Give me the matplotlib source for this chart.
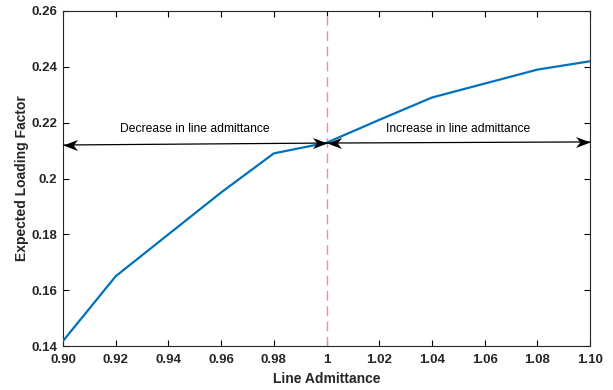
import matplotlib
matplotlib.use('Agg')
import matplotlib.pyplot as plt
from matplotlib.path import Path

# data
admittance = [0.90, 0.92, 0.94, 0.96, 0.98, 1.00, 1.02, 1.04, 1.06, 1.08, 1.10]
loading = [0.1418, 0.165, 0.180, 0.195, 0.209, 0.2128, 0.221, 0.229, 0.234, 0.239, 0.242]

xticks = [0.90, 0.92, 0.94, 0.96, 0.98, 1.00, 1.02, 1.04, 1.06, 1.08, 1.10]
xticklabels = ['0.90', '0.92', '0.94', '0.96', '0.98', '1', '1.02', '1.04', '1.06', '1.08', '1.10']
yticks = [0.14, 0.16, 0.18, 0.20, 0.22, 0.24, 0.26]
yticklabels = ['0.14', '0.16', '0.18', '0.2', '0.22', '0.24', '0.26']

# double-headed arrows: (x0, y0, x1, y1)
dec_arrow = (0.90, 0.2120, 1.00, 0.2127)
inc_arrow = (1.00, 0.2127, 1.10, 0.2131)

plt.rcParams['font.family'] = ['Liberation Sans', 'DejaVu Sans']

fig = plt.figure(figsize=(6.13, 3.9), dpi=100)
ax = fig.add_axes([0.1028, 0.1128, 0.8597, 0.859])

ax.plot(admittance, loading, color='#0072BD', lw=1.6, zorder=3)
ax.axvline(1.0, color='#ff8a8a', ls=(0, (7, 4)), lw=1.0, zorder=2)

# swept-back arrow heads (tip at the origin)
head_left = Path([(0, 0), (1, 0.38), (0.7, 0), (1, -0.38), (0, 0)],
                 [Path.MOVETO, Path.LINETO, Path.LINETO, Path.LINETO, Path.CLOSEPOLY])
head_right = Path([(0, 0), (-1, 0.38), (-0.7, 0), (-1, -0.38), (0, 0)],
                  [Path.MOVETO, Path.LINETO, Path.LINETO, Path.LINETO, Path.CLOSEPOLY])

for x0, y0, x1, y1 in [dec_arrow, inc_arrow]:
    ax.plot([x0, x1], [y0, y1], color='black', lw=0.9, zorder=4)
    ax.plot([x0], [y0], marker=head_left, ms=21, color='black', mew=0, zorder=5,
            clip_on=False)
    ax.plot([x1], [y1], marker=head_right, ms=21, color='black', mew=0, zorder=5,
            clip_on=False)

ax.text(0.95, 0.2177, 'Decrease in line admittance', ha='center', va='center', fontsize=8.7)
ax.text(1.05, 0.2177, 'Increase in line admittance', ha='center', va='center', fontsize=8.7)

ax.set_xlim(0.90, 1.10)
ax.set_ylim(0.14, 0.26)
ax.set_xticks(xticks)
ax.set_xticklabels(xticklabels, fontweight='bold', fontsize=9.5)
ax.set_yticks(yticks)
ax.set_yticklabels(yticklabels, fontweight='bold', fontsize=9.5)
ax.tick_params(direction='in', length=4, width=0.8, top=True, right=True,
               labelcolor='#262626')
ax.tick_params(axis='x', pad=6)
ax.tick_params(axis='y', pad=4)
for s in ax.spines.values():
    s.set_linewidth(0.8)
    s.set_color('#262626')

ax.set_xlabel('Line Admittance', fontweight='bold', fontsize=10, color='#262626', labelpad=4)
ax.set_ylabel('Expected Loading Factor', fontweight='bold', fontsize=10, color='#262626', labelpad=2)

fig.savefig('out.png', dpi=100)
